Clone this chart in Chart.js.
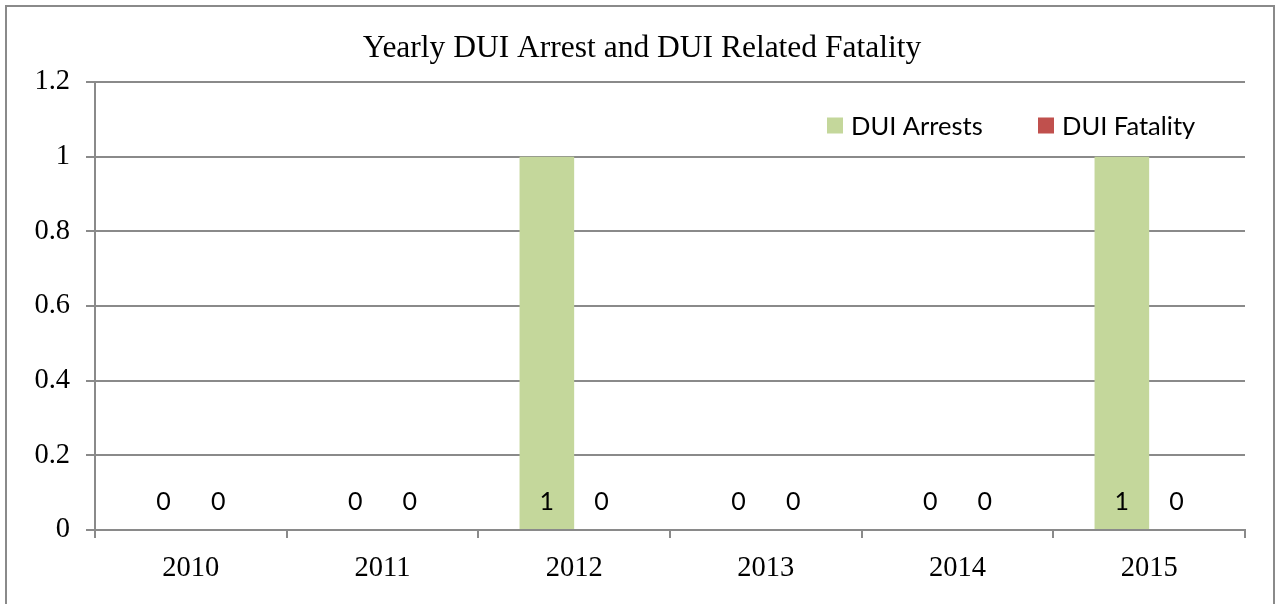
<!DOCTYPE html>
<html>
<head>
<meta charset="utf-8">
<script src="https://cdn.jsdelivr.net/npm/chart.js@4/dist/chart.umd.min.js"></script>
<style>
  html, body { margin: 0; padding: 0; background: #fff; }
  canvas { display: block; }
</style>
</head>
<body>
<canvas id="duiChart" width="1276" height="604"></canvas>
<script>
const years = ['2010', '2011', '2012', '2013', '2014', '2015'];
const duiArrests = [0, 0, 1, 0, 0, 1];
const duiFatality = [0, 0, 0, 0, 0, 0];
const yTicks = [0, 0.2, 0.4, 0.6, 0.8, 1, 1.2];
const chartTitle = 'Yearly DUI Arrest and DUI Related Fatality';

const colors = {
  arrests: '#c4d79b',
  fatality: '#c0504d',
  grid: '#8a8a8a',
  border: '#8a8a8a',
  text: '#000000'
};

const serif = '"Liberation Serif", "Times New Roman", serif';
const sans = 'Lato, "Noto Sans", sans-serif';

// frame + title + legend + value labels
const decorPlugin = {
  id: 'decor',
  beforeDraw(chart) {
    const ctx = chart.ctx;
    ctx.save();
    ctx.strokeStyle = colors.border;
    ctx.lineWidth = 2;
    ctx.strokeRect(6, 6, 1268, 640);
    ctx.fillStyle = colors.text;
    ctx.font = '31.5px ' + serif;
    ctx.textAlign = 'center';
    ctx.textBaseline = 'alphabetic';
    ctx.fillText(chartTitle, 642, 57);
    ctx.restore();
  },
  afterDatasetsDraw(chart) {
    const ctx = chart.ctx;
    const yScale = chart.scales.y;
    const base = yScale.getPixelForValue(0);
    ctx.save();
    ctx.fillStyle = colors.text;
    ctx.font = '25px ' + sans;
    ctx.textAlign = 'center';
    ctx.textBaseline = 'middle';
    chart.data.datasets.forEach((ds, i) => {
      chart.getDatasetMeta(i).data.forEach((bar, j) => {
        ctx.fillText(String(ds.data[j]), bar.x, base - 28);
      });
    });

    // legend
    ctx.font = '25.5px ' + sans;
    let x = 827;
    const y = 125.5;
    chart.data.datasets.forEach((ds) => {
      ctx.fillStyle = ds.backgroundColor;
      ctx.fillRect(x, y - 8, 16, 16);
      ctx.fillStyle = colors.text;
      ctx.textAlign = 'left';
      ctx.fillText(ds.label, x + 24, y + 1);
      x += 211;
    });
    ctx.restore();
  }
};

new Chart(document.getElementById('duiChart').getContext('2d'), {
  type: 'bar',
  data: {
    labels: years,
    datasets: [
      { label: 'DUI Arrests', data: duiArrests, backgroundColor: colors.arrests },
      { label: 'DUI Fatality', data: duiFatality, backgroundColor: colors.fatality }
    ]
  },
  options: {
    responsive: false,
    animation: false,
    categoryPercentage: 0.57,
    barPercentage: 1.0,
    layout: { padding: { left: 0, top: 82, right: 31, bottom: 0 } },
    plugins: {
      legend: { display: false },
      title: { display: false },
      tooltip: { enabled: false }
    },
    scales: {
      x: {
        afterFit: (scale) => { scale.height = 74; },
        grid: {
          offset: true,
          drawOnChartArea: false,
          drawTicks: true,
          tickLength: 8,
          color: colors.grid,
          lineWidth: 2
        },
        border: { display: true, color: colors.grid, width: 2 },
        ticks: {
          color: colors.text,
          font: { family: serif, size: 28.5 },
          padding: 13,
          maxRotation: 0
        }
      },
      y: {
        min: 0,
        max: 1.2,
        afterFit: (scale) => { scale.width = 95; },
        afterBuildTicks: (scale) => { scale.ticks = yTicks.map(v => ({ value: v })); },
        grid: {
          color: colors.grid,
          lineWidth: 2,
          tickLength: 9
        },
        border: { display: true, color: colors.grid, width: 2 },
        ticks: {
          color: colors.text,
          font: { family: serif, size: 28.5 },
          padding: 16,
          callback: (v) => String(Number(v.toFixed(1)))
        }
      }
    }
  },
  plugins: [decorPlugin]
});
</script>
</body>
</html>
